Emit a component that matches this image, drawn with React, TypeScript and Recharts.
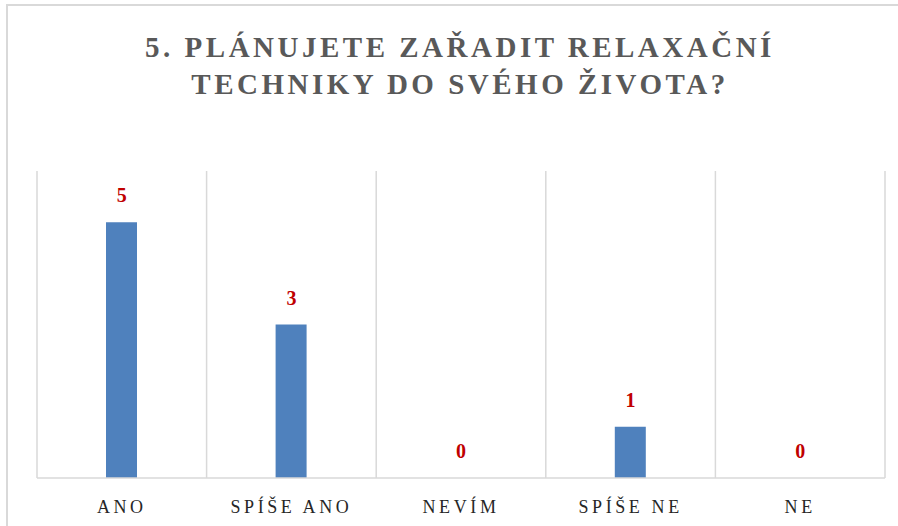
import { Bar, CartesianGrid, ComposedChart, LabelList, Line, XAxis, YAxis } from "recharts";

// answers to question 5
const categories = ["ANO", "SPÍŠE ANO", "NEVÍM", "SPÍŠE NE", "NE"];
const counts = [5, 3, 0, 1, 0];
const titleLines = ["5. PLÁNUJETE ZAŘADIT RELAXAČNÍ", "TECHNIKY DO SVÉHO ŽIVOTA?"];

const data = categories.map((name, i) => ({ name, value: counts[i] }));

const serif = "'Liberation Serif', 'DejaVu Serif', serif";

export default function App() {
  return (
    <div
      style={{
        position: "absolute",
        left: 0,
        top: 0,
        width: 898,
        height: 526,
        overflow: "hidden",
        background: "#fff",
      }}
    >
      {/* outer frame, only top and left edges are visible */}
      <div
        style={{
          position: "absolute",
          left: 6,
          top: 4,
          width: 1000,
          height: 1000,
          borderLeft: "2px solid #d9d9d9",
          borderTop: "2px solid #d9d9d9",
        }}
      />
      <div
        style={{
          position: "absolute",
          left: 0,
          top: 29,
          width: 920,
          textAlign: "center",
          fontFamily: serif,
          fontWeight: "bold",
          fontSize: 29,
          lineHeight: "37px",
          letterSpacing: 3.5,
          color: "#595959",
        }}
      >
        {titleLines.map((line) => (
          <div key={line}>{line}</div>
        ))}
      </div>
      <ComposedChart
        width={898}
        height={526}
        data={data}
        margin={{ top: 171, right: 13, bottom: 18, left: 37 }}
        style={{ position: "absolute", left: 0, top: 0 }}
      >
        <CartesianGrid
          horizontal={false}
          stroke="#d9d9d9"
          strokeWidth={1.5}
          verticalCoordinatesGenerator={({ offset }: any) =>
            categories
              .map((_, i) => offset.left + (i * offset.width) / categories.length)
              .concat(offset.left + offset.width)
          }
        />
        <XAxis
          dataKey="name"
          height={30}
          axisLine={{ stroke: "#d9d9d9", strokeWidth: 1.5 }}
          tickLine={false}
          tick={{
            fill: "#262626",
            fontFamily: serif,
            fontSize: 18,
            letterSpacing: 3.6,
          }}
          tickMargin={16}
          interval={0}
        />
        <YAxis hide domain={[0, 6]} />
        <Bar dataKey="value" fill="#4f81bd" barSize={31} isAnimationActive={false} />
        {/* invisible series that carries the value labels, zeros included */}
        <Line
          dataKey="value"
          stroke="none"
          dot={false}
          activeDot={false}
          isAnimationActive={false}
        >
          <LabelList
            dataKey="value"
            position="top"
            offset={20}
            fill="#c00000"
            fontFamily={serif}
            fontWeight="bold"
            fontSize={20}
          />
        </Line>
      </ComposedChart>
    </div>
  );
}
